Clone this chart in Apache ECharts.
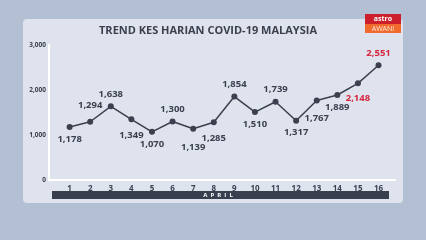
<!DOCTYPE html>
<html><head><meta charset="utf-8">
<script src="https://cdn.jsdelivr.net/npm/echarts@6/dist/echarts.min.js"></script>
<style>html,body{margin:0;padding:0;background:#b3bfd3;}#c{width:426px;height:240px;}</style>
</head><body><div id="c"></div>
<script>
const days = [1,2,3,4,5,6,7,8,9,10,11,12,13,14,15,16];
const cases = [1178,1294,1638,1349,1070,1300,1139,1285,1854,1510,1739,1317,1767,1889,2148,2551];
const labelPos = ['bottom','top','top','bottom','bottom','top','bottom','bottom','top','bottom','top','bottom','bottom','bottom','bottom','top'];
const labelDist = [4,8,4,8,4,4,11,8,4,4,4,4,10,4,7,4];
const highlight = [false,false,false,false,false,false,false,false,false,false,false,false,false,false,true,true];
const yTicks = [0,1000,2000,3000];
const title = 'TREND KES HARIAN COVID-19 MALAYSIA';
const monthName = 'A  P  R  I  L';

const fmt = v => v.toLocaleString('en-US');
const chart = echarts.init(document.getElementById('c'), null, {renderer:'canvas'});
const dark = '#3b3f4e';
const data = days.map((d,i)=>({
  value:[d,cases[i]],
  label:{position:labelPos[i], distance:labelDist[i], color: highlight[i] ? '#d7263d' : dark}
}));
chart.setOption({
  backgroundColor:'#b3bfd3',
  animation:false,
  graphic:[
    {type:'rect', shape:{x:23,y:19,width:380,height:184,r:4}, style:{fill:'#dee3ee'}, z:-10},
    {type:'text', style:{text:title, x:208, y:31, align:'center', verticalAlign:'middle', font:'bold 11px "Open Sans"', fill:dark}, z:1},
    {type:'rect', shape:{x:365,y:14,width:36,height:10}, style:{fill:'#cc1f2b'}},
    {type:'rect', shape:{x:365,y:24,width:36,height:9}, style:{fill:'#f26a2e'}},
    {type:'text', style:{text:'astro', x:383, y:19, align:'center', verticalAlign:'middle', font:'bold 7px "Open Sans"', fill:'#fff'}},
    {type:'text', style:{text:'AWANI', x:383, y:28.5, align:'center', verticalAlign:'middle', font:'7px "Open Sans"', fill:'#ffe9dc'}},
    {type:'rect', shape:{x:52,y:191,width:337,height:8}, style:{fill:'#3a3f50'}},
    {type:'text', style:{text:monthName, x:218, y:195.5, align:'center', verticalAlign:'middle', font:'bold 6px "Open Sans"', fill:'#fff'}}
  ],
  grid:{left:49,right:31,top:45,bottom:60},
  xAxis:{type:'value', min:0, max:16.8, interval:1,
    axisLine:{show:true, onZero:false, lineStyle:{color:'#ffffff', width:2}},
    axisTick:{show:false}, splitLine:{show:false},
    axisLabel:{margin:5, color:dark, fontSize:8, fontWeight:'bold', fontFamily:'Open Sans',
      formatter:v => (v>=1 && v<=16 && Number.isInteger(v)) ? String(v) : ''}
  },
  yAxis:{type:'value', min:0, max:3000, interval:1000,
    axisLine:{show:true, lineStyle:{color:'#ffffff', width:2}},
    axisTick:{show:false}, splitLine:{show:false},
    axisLabel:{margin:3, color:dark, fontSize:6.5, fontWeight:'bold', fontFamily:'Open Sans',
      formatter:v => yTicks.includes(v) ? fmt(v) : ''}
  },
  series:[{
    type:'line', data:data, symbol:'circle', symbolSize:6,
    lineStyle:{color:dark, width:1.5}, itemStyle:{color:dark},
    label:{show:true, fontSize:9.5, fontWeight:'bold', fontFamily:'Open Sans',
      formatter:p => fmt(p.value[1])}
  }]
});
</script></body></html>
